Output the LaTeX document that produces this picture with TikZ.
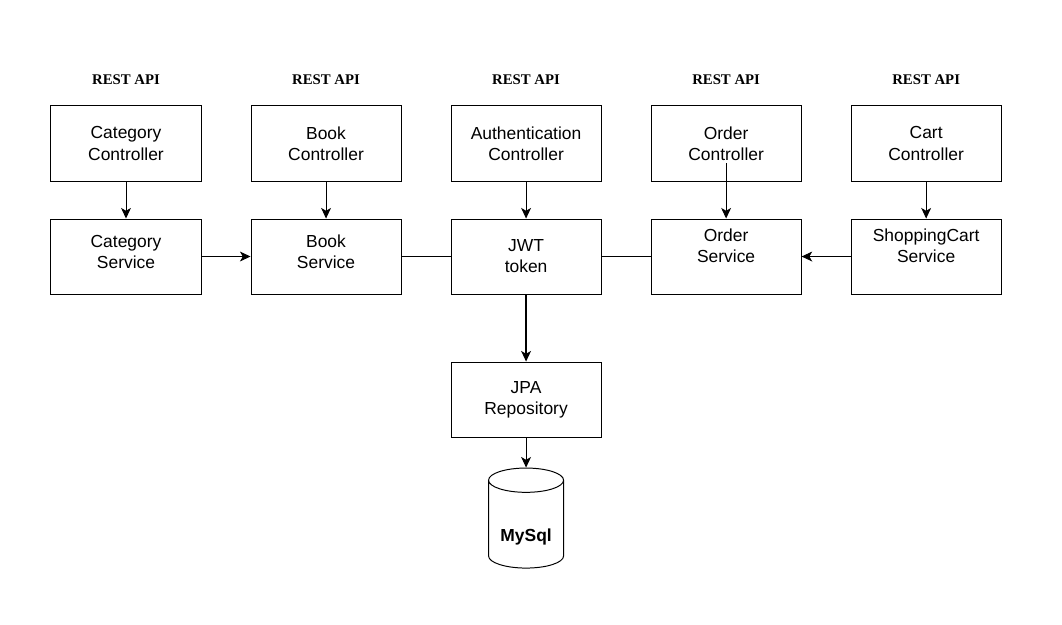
\documentclass[tikz,border=0pt]{standalone}
\usepackage{fontspec}
\setmainfont{Liberation Sans}
\newfontfamily\apifont{Liberation Serif}
\usetikzlibrary{arrows.meta}
\usetikzlibrary{positioning}
\usetikzlibrary{shapes.geometric}

\begin{document}
\begin{tikzpicture}[
    x=0.025cm, y=-0.025cm,
    node distance=0.925cm and 1.225cm,
    every node/.style={font=\fontsize{12.4}{15}\selectfont},
    box/.style={
        draw,line width=0.7pt,minimum width=3.75cm,minimum height=1.875cm,
        align=center,inner sep=0pt
    },
    api/.style={font=\apifont\bfseries\fontsize{10.5}{12}\selectfont},
    raised/.style={text depth=#1},
    link/.style={line width=0.7pt},
    every edge/.append style={
        line width=0.7pt,
        -{Stealth[length=7.5pt,width=7pt,inset=2pt]}
    }
]
    \useasboundingbox (0,0) rectangle (1062,624);

    \node [box] (catcon) at (126,143.5) {Category\\Controller};
    \node [box,right=of catcon] (bookcon) {Book\\Controller};
    \node [box,right=of bookcon] (authcon) {Authentication\\Controller};
    \node [box,right=of authcon] (ordercon) {Order\\Controller};
    \node [box,right=of ordercon] (cartcon) {Cart\\Controller};

    \foreach \c in {catcon,bookcon,authcon,ordercon,cartcon}
        \node [api,above=0.4cm of \c] (api-\c) {REST API};

    \node [box,raised=0.25cm,below=of catcon] (catsvc) {Category\\Service};
    \node [box,raised=0.25cm,below=of bookcon] (booksvc) {Book\\Service};
    \node [box,below=of authcon] (jwt) {JWT\\token};
    \node [box,raised=0.55cm,below=of ordercon] (ordersvc) {Order\\Service};
    \node [box,raised=0.55cm,below=of cartcon] (cartsvc) {ShoppingCart\\Service};

    \node [box,below=1.675cm of jwt] (jpa) {JPA\\Repository};
    \node [draw,cylinder,shape border rotate=90,aspect=0.4,
        minimum width=1.875cm,minimum height=2.5cm,line width=0.7pt,
        text height=0.8cm,
        font=\bfseries\fontsize{12.4}{15}\selectfont,
        below=0.75cm of jpa] (mysql) {MySql};

    \coordinate (ordertail) at ([yshift=-0.49cm]ordercon.center);

    \draw (catcon) edge (catsvc);
    \draw (bookcon) edge (booksvc);
    \draw (authcon) edge (jwt);
    \draw (ordertail) edge (ordersvc);
    \draw (cartcon) edge (cartsvc);

    \draw (catsvc) edge (booksvc);
    \draw [link] (booksvc) -- (jwt);
    \draw [link] (jwt) -- (ordersvc);
    \draw (cartsvc) edge (ordersvc);

    \draw (jwt) edge [line width=1pt] (jpa);
    \draw (jpa) edge (mysql);

\end{tikzpicture}
\end{document}
